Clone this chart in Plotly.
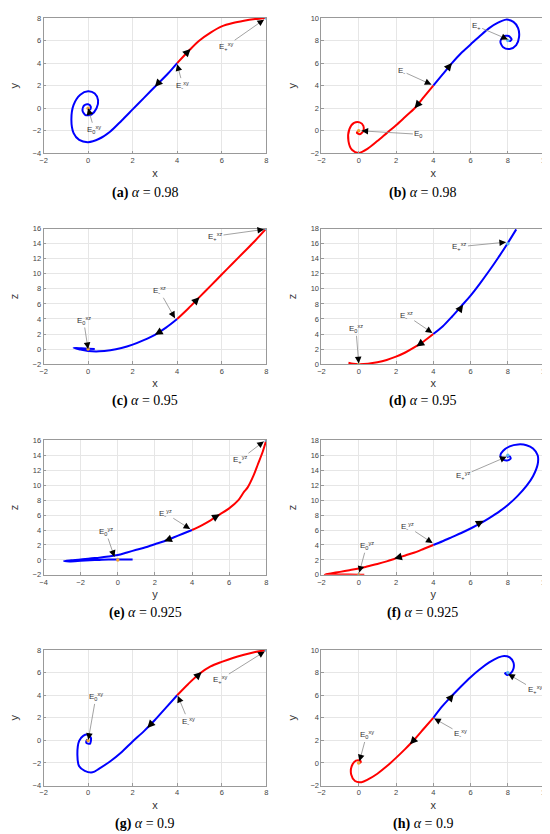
import plotly.graph_objects as go

# (a) alpha = 0.98, x-y plane
A_BLUE_X = [4.0, 3.6, 3.0, 2.5, 2.0, 1.5, 1.0, 0.5, 0.0, -0.4, -0.65, -0.75, -0.65, -0.35, 0.0, 0.3, 0.45, 0.38, 0.15, -0.12, -0.25, -0.18, 0.0, 0.12, 0.1, 0.0]
A_BLUE_Y = [4.0, 3.1, 1.9, 0.9, -0.1, -1.1, -2.05, -2.7, -3.0, -2.8, -2.2, -1.0, 0.3, 1.2, 1.5, 1.3, 0.7, 0.0, -0.55, -0.6, -0.2, 0.25, 0.35, 0.15, -0.1, 0.0]
A_RED_X = [4.0, 4.6, 5.0, 5.5, 6.0, 6.5, 7.0, 7.5, 8.0]
A_RED_Y = [4.0, 5.25, 6.0, 6.7, 7.25, 7.55, 7.75, 7.9, 8.0]

# (b) alpha = 0.98, x-y plane
B_RED_X = [4.0, 3.5, 3.0, 2.5, 2.0, 1.5, 1.0, 0.5, 0.0, -0.35, -0.55, -0.5, -0.25, 0.05, 0.25, 0.25, 0.05, -0.1, 0.0]
B_RED_Y = [4.0, 3.0, 2.0, 1.25, 0.5, -0.2, -0.9, -1.55, -1.95, -1.7, -0.9, 0.15, 0.7, 0.75, 0.45, 0.0, -0.3, -0.15, 0.0]
B_BLUE_X = [4.0, 4.5, 5.0, 5.5, 6.0, 6.5, 7.0, 7.5, 7.9, 8.3, 8.55, 8.6, 8.45, 8.1, 7.75, 7.6, 7.75, 8.05, 8.2, 8.1, 8.0]
B_BLUE_Y = [4.0, 5.0, 6.0, 6.9, 7.65, 8.4, 9.1, 9.6, 9.85, 9.65, 9.1, 8.3, 7.6, 7.25, 7.4, 7.9, 8.35, 8.4, 8.1, 7.95, 8.05]

# (c) alpha = 0.95, x-z plane
C_BLUE_X = [4.0, 3.5, 3.0, 2.5, 2.0, 1.5, 1.0, 0.5, 0.0, -0.35, -0.65, -0.3, 0.0, 0.3]
C_BLUE_Y = [4.0, 2.85, 1.9, 1.2, 0.6, 0.15, -0.15, -0.3, -0.25, -0.05, 0.15, 0.1, 0.05, 0.0]
C_RED_X = [4.0, 4.5, 5.0, 5.5, 6.0, 6.5, 7.0, 7.5, 8.0]
C_RED_Y = [4.0, 5.4, 6.9, 8.4, 9.9, 11.4, 12.9, 14.4, 16.0]

# (d) alpha = 0.95, x-z plane
D_RED_X = [4.0, 3.5, 3.0, 2.5, 2.0, 1.5, 1.0, 0.5, 0.0, -0.3, -0.55]
D_RED_Y = [4.0, 3.05, 2.25, 1.55, 1.0, 0.56, 0.25, 0.06, 0.0, 0.05, 0.18]
D_BLUE_X = [4.0, 4.5, 5.0, 5.5, 6.0, 6.5, 7.0, 7.5, 8.0, 8.45]
D_BLUE_Y = [4.0, 5.0, 6.3, 7.7, 9.1, 10.7, 12.4, 14.2, 16.1, 17.9]

# (e) alpha = 0.925, y-z plane
E_BLUE_X = [4.0, 3.5, 3.0, 2.5, 2.0, 1.5, 1.0, 0.5, 0.0, -0.5, -1.0, -1.5, -2.0, -2.5, -2.9, -2.6, -2.0, -1.5, -1.0, -0.5, 0.0, 0.4, 0.8]
E_BLUE_Y = [4.0, 3.5, 3.0, 2.5, 2.1, 1.7, 1.35, 1.0, 0.65, 0.45, 0.3, 0.2, 0.05, -0.05, -0.15, -0.2, -0.12, -0.05, 0.0, 0.05, 0.05, 0.05, 0.05]
E_RED_X = [4.0, 4.5, 5.0, 5.5, 6.0, 6.5, 6.8, 7.0, 7.3, 7.55, 7.8, 8.0]
E_RED_Y = [4.0, 4.6, 5.3, 6.1, 6.9, 8.0, 9.1, 9.7, 11.2, 12.8, 14.4, 16.0]

# (f) alpha = 0.925, y-z plane
F_RED_X = [4.0, 3.5, 3.0, 2.5, 2.0, 1.5, 1.0, 0.5, 0.0, -0.5, -1.0, -1.5, -1.82, -1.0, 0.0, 0.3]
F_RED_Y = [4.0, 3.5, 3.0, 2.6, 2.2, 1.8, 1.45, 1.15, 0.85, 0.62, 0.4, 0.2, 0.05, 0.04, 0.03, 0.03]
F_BLUE_X = [4.0, 4.5, 5.0, 5.5, 6.0, 6.5, 7.0, 7.5, 8.0, 8.5, 9.0, 9.35, 9.6, 9.6, 9.35, 9.0, 8.55, 8.1, 7.75, 7.6, 7.7, 7.95, 8.15, 8.1, 7.95]
F_BLUE_Y = [4.0, 4.5, 5.05, 5.6, 6.2, 6.85, 7.6, 8.4, 9.35, 10.5, 11.9, 13.2, 14.8, 16.0, 16.9, 17.35, 17.45, 17.2, 16.6, 16.0, 15.5, 15.3, 15.55, 15.85, 15.75]

# (g) alpha = 0.9, x-y plane
G_BLUE_X = [4.0, 3.5, 3.0, 2.5, 2.0, 1.5, 1.0, 0.5, 0.2, -0.15, -0.4, -0.48, -0.4, -0.22, 0.0, 0.13, 0.08, -0.08, -0.05, 0.0]
G_BLUE_Y = [4.0, 2.9, 1.8, 0.8, -0.1, -1.05, -1.85, -2.5, -2.83, -2.7, -2.3, -1.3, -0.05, 0.4, 0.5, 0.2, -0.3, -0.2, 0.05, 0.0]
G_RED_X = [4.0, 4.5, 5.0, 5.5, 6.0, 6.5, 7.0, 7.5, 8.0]
G_RED_Y = [4.0, 5.0, 5.9, 6.55, 6.95, 7.3, 7.58, 7.82, 8.0]

# (h) alpha = 0.9, x-y plane
H_RED_X = [4.0, 3.5, 3.0, 2.5, 2.0, 1.5, 1.0, 0.5, 0.15, -0.2, -0.4, -0.38, -0.15, 0.08, 0.1, 0.0]
H_RED_Y = [4.0, 3.05, 2.1, 1.25, 0.45, -0.3, -0.95, -1.45, -1.7, -1.6, -1.05, -0.3, 0.2, 0.2, 0.05, 0.0]
H_BLUE_X = [4.0, 4.5, 5.0, 5.5, 6.0, 6.5, 7.0, 7.5, 7.8, 8.1, 8.3, 8.3, 8.15, 7.95, 7.85, 7.95]
H_BLUE_Y = [4.0, 5.05, 5.95, 6.8, 7.6, 8.3, 8.9, 9.35, 9.48, 9.35, 8.9, 8.35, 7.95, 7.8, 7.95, 8.0]

# equilibrium points shown as small dots: (E0 x, E0 y, E+ x, E+ y)
EQ_POINTS = [(0, 0, 8, 8), (0, 0, 8, 8), (0, 0, 8, 16), (0, 0, 8, 16),
             (0, 0, 8, 16), (0, 0, 8, 16), (0, 0, 8, 8), (0, 0, 8, 8)]

# labels: (text, point x, point y, text x, text y)
A_LABELS = [("E<sub>+</sub><sup>xy</sup>", 7.9, 7.85, 6.2, 5.5),
            ("E<sub>-</sub><sup>xy</sup>", 4.0, 3.9, 4.25, 2.05),
            ("E<sub>0</sub><sup>xy</sup>", 0.0, 0.0, 0.28, -1.9)]
B_LABELS = [("E<sub>+</sub>", 8.0, 8.1, 6.3, 9.3),
            ("E<sub>-</sub>", 3.9, 4.1, 2.3, 5.3),
            ("E<sub>0</sub>", 0.15, 0.0, 3.2, -0.3)]
C_LABELS = [("E<sub>+</sub><sup>xz</sup>", 7.9, 15.9, 5.7, 15.0),
            ("E<sub>-</sub><sup>xz</sup>", 3.9, 4.1, 3.2, 7.75),
            ("E<sub>0</sub><sup>xz</sup>", 0.0, 0.0, -0.2, 3.8)]
D_LABELS = [("E<sub>+</sub><sup>xz</sup>", 7.9, 16.2, 5.4, 15.6),
            ("E<sub>-</sub><sup>xz</sup>", 3.95, 4.15, 2.55, 6.5),
            ("E<sub>0</sub><sup>xz</sup>", 0.0, 0.1, -0.15, 4.7)]
E_LABELS = [("E<sub>+</sub><sup>yz</sup>", 7.87, 15.85, 6.58, 13.4),
            ("E<sub>-</sub><sup>yz</sup>", 3.9, 4.14, 2.56, 6.25),
            ("E<sub>0</sub><sup>yz</sup>", -0.18, 0.4, -0.65, 3.8)]
F_LABELS = [("E<sub>+</sub><sup>yz</sup>", 7.93, 15.8, 5.6, 13.3),
            ("E<sub>-</sub><sup>yz</sup>", 3.96, 4.26, 2.6, 6.5),
            ("E<sub>0</sub><sup>yz</sup>", 0.03, 0.3, 0.42, 3.9)]
G_LABELS = [("E<sub>+</sub><sup>xy</sup>", 7.93, 7.87, 5.94, 5.4),
            ("E<sub>-</sub><sup>xy</sup>", 4.03, 3.94, 4.5, 1.7),
            ("E<sub>0</sub><sup>xy</sup>", 0.01, 0.06, 0.35, 3.85)]
H_LABELS = [("E<sub>+</sub><sup>xy</sup>", 8.02, 7.87, 9.43, 6.5),
            ("E<sub>-</sub><sup>xy</sup>", 4.05, 3.94, 5.46, 2.62),
            ("E<sub>0</sub><sup>xy</sup>", 0.04, 0.15, 0.42, 2.48)]

# flow direction arrows: (head x, head y, tail x, tail y)
A_FLOW = [(3.0, 1.9, 3.25, 2.45), (4.6, 5.25, 4.4, 4.85)]
B_FLOW = [(3.0, 2.0, 3.25, 2.5), (5.0, 6.0, 4.8, 5.6)]
C_FLOW = [(3.0, 1.9, 3.4, 2.6), (5.0, 6.9, 4.8, 6.3)]
D_FLOW = [(3.1, 2.35, 3.5, 3.05), (5.6, 7.9, 5.4, 7.2)]
E_FLOW = [(2.5, 2.5, 3.0, 3.0), (5.5, 6.1, 5.1, 5.5)]
F_FLOW = [(1.9, 2.2, 2.5, 2.6), (6.7, 7.25, 6.3, 6.7)]
G_FLOW = [(2.66, 1.1, 2.9, 1.6), (5.1, 6.05, 4.85, 5.6)]
H_FLOW = [(2.75, 1.65, 3.0, 2.1), (5.1, 6.1, 4.85, 5.6)]

CAPTIONS = ["(a)", "(b)", "(c)", "(d)", "(e)", "(f)", "(g)", "(h)"]
ALPHAS = ["0.98", "0.98", "0.95", "0.95", "0.925", "0.925", "0.9", "0.9"]

panels = [
    (A_BLUE_X, A_BLUE_Y, A_RED_X, A_RED_Y, A_LABELS, A_FLOW, [-2, 8], [-4, 8], "x", "y"),
    (B_BLUE_X, B_BLUE_Y, B_RED_X, B_RED_Y, B_LABELS, B_FLOW, [-2, 10], [-2, 10], "x", "y"),
    (C_BLUE_X, C_BLUE_Y, C_RED_X, C_RED_Y, C_LABELS, C_FLOW, [-2, 8], [-2, 16], "x", "z"),
    (D_BLUE_X, D_BLUE_Y, D_RED_X, D_RED_Y, D_LABELS, D_FLOW, [-2, 10], [0, 18], "x", "z"),
    (E_BLUE_X, E_BLUE_Y, E_RED_X, E_RED_Y, E_LABELS, E_FLOW, [-4, 8], [-2, 16], "y", "z"),
    (F_BLUE_X, F_BLUE_Y, F_RED_X, F_RED_Y, F_LABELS, F_FLOW, [-2, 10], [0, 18], "y", "z"),
    (G_BLUE_X, G_BLUE_Y, G_RED_X, G_RED_Y, G_LABELS, G_FLOW, [-2, 8], [-4, 8], "x", "y"),
    (H_BLUE_X, H_BLUE_Y, H_RED_X, H_RED_Y, H_LABELS, H_FLOW, [-2, 10], [-2, 10], "x", "y"),
]

W, H = 550, 834
col_px = [(32, 258), (314, 541)]
row_px = [(6, 143), (219, 356), (433, 569), (645, 782)]
cap_y_px = [183, 393, 608, 821]
cap_x_px = [135, 417]

fig = go.Figure()
annotations = []

for i, (bx, by, rx, ry, labels, flows, xr, yr, xt, yt) in enumerate(panels):
    n = "" if i == 0 else str(i + 1)
    r, c = divmod(i, 2)
    xref, yref = "x" + n, "y" + n
    for xs, ys, col in [(bx, by, "#0000ff"), (rx, ry, "#ff0000")]:
        fig.add_trace(go.Scatter(x=xs, y=ys, mode="lines", xaxis=xref, yaxis=yref,
                                 line=dict(color=col, width=2, shape="spline", smoothing=0.8),
                                 showlegend=False))
    e0x, e0y, epx, epy = EQ_POINTS[i]
    fig.add_trace(go.Scatter(x=[e0x, epx], y=[e0y, epy], mode="markers", xaxis=xref, yaxis=yref,
                             marker=dict(size=3.5, color=["#f0a030", "#5ab4f0"]), showlegend=False))
    x0, x1 = col_px[c]
    y0, y1 = row_px[r]
    axis_common = dict(showgrid=True, gridcolor="#e6e6e6", gridwidth=0.8, zeroline=False,
                       showline=True, linecolor="#999", linewidth=0.8, mirror=True,
                       ticks="inside", ticklen=3, tickcolor="#999", dtick=2,
                       tickfont=dict(family="Liberation Sans", size=7.5, color="#444"))
    fig.update_layout(**{
        "xaxis" + n: dict(axis_common, range=xr, domain=[x0 / W, x1 / W], anchor=yref,
                          title=dict(text=xt, standoff=4, font=dict(family="Liberation Sans", size=11, color="#333"))),
        "yaxis" + n: dict(axis_common, range=yr, domain=[1 - y1 / H, 1 - y0 / H], anchor=xref,
                          title=dict(text=yt, standoff=11, font=dict(family="Liberation Sans", size=11, color="#333"))),
    })
    xspan, yspan = xr[1] - xr[0], yr[1] - yr[0]
    pw, ph = x1 - x0, y1 - y0
    for text, hx, hy, tx, ty in labels:
        annotations.append(dict(x=hx, y=hy, ax=tx, ay=ty, xref=xref, yref=yref, axref=xref, ayref=yref,
                                text=text, showarrow=True, arrowhead=0, arrowwidth=0.8,
                                arrowcolor="#8a8a8a", font=dict(family="Liberation Sans", size=8, color="#333")))
        dxp = (tx - hx) * pw / xspan
        dyp = (ty - hy) * ph / yspan
        L = (dxp ** 2 + dyp ** 2) ** 0.5
        annotations.append(dict(x=hx, y=hy, ax=dxp * 7 / L, ay=-dyp * 7 / L, xref=xref, yref=yref,
                                text="", showarrow=True, arrowhead=2, arrowsize=1.1, arrowwidth=1.2,
                                arrowcolor="black"))
    for hx, hy, tx, ty in flows:
        dxp = (hx - tx) * pw / xspan
        dyp = (hy - ty) * ph / yspan
        L = (dxp ** 2 + dyp ** 2) ** 0.5
        annotations.append(dict(x=hx, y=hy, ax=-dxp * 7 / L, ay=dyp * 7 / L, xref=xref, yref=yref,
                                text="", showarrow=True, arrowhead=2, arrowsize=1.2, arrowwidth=1.3,
                                arrowcolor="black"))
    annotations.append(dict(x=cap_x_px[c] / W, y=1 - cap_y_px[r] / H, xref="paper", yref="paper",
                            text="<b>" + CAPTIONS[i] + "</b> <i>α</i> = " + ALPHAS[i], showarrow=False,
                            xanchor="center", yanchor="middle",
                            font=dict(family="Liberation Serif", size=14, color="black")))

fig.update_layout(width=W, height=H, margin=dict(l=0, r=0, t=0, b=0),
                  paper_bgcolor="white", plot_bgcolor="white", annotations=annotations)

fig.write_html("out.html")
